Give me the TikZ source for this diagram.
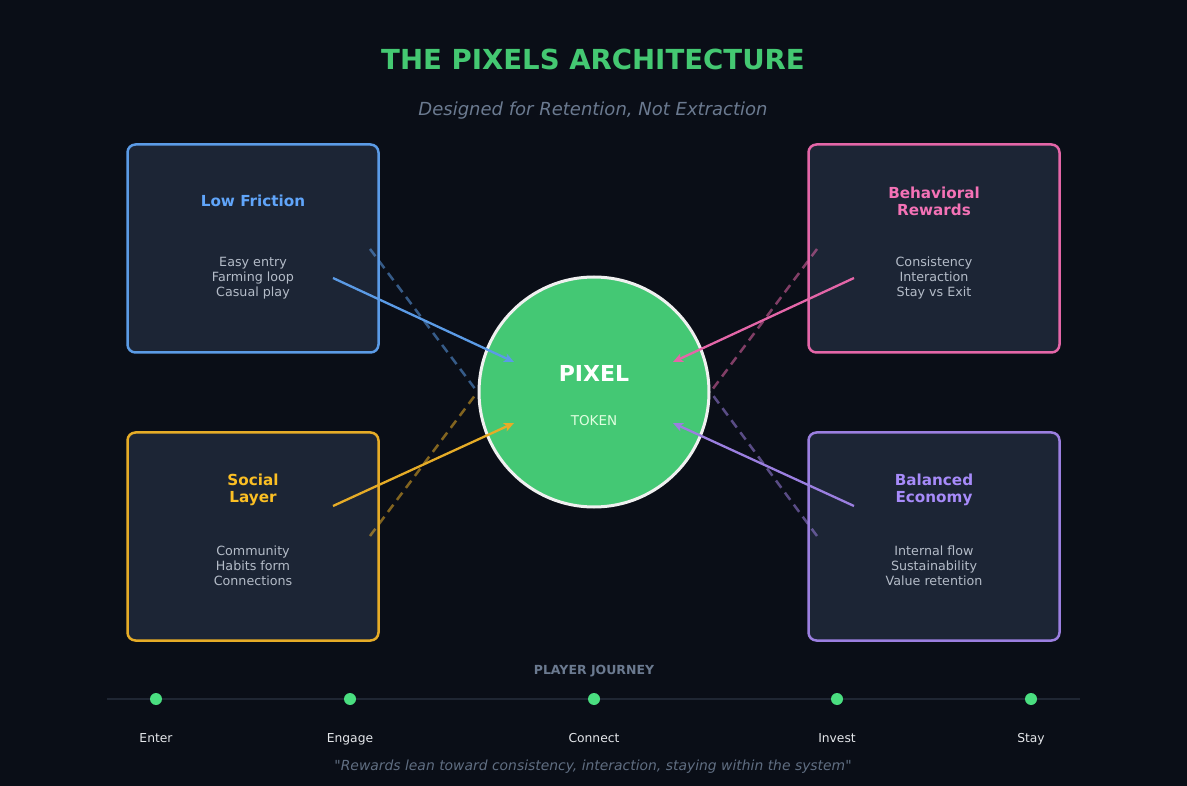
\documentclass[tikz,border=0pt]{standalone}
\usepackage{fontspec}
\setmainfont{DejaVu Sans}[Ligatures=TeXOff]
\usetikzlibrary{arrows.meta}
\definecolor{bg}{HTML}{0A0E17}
\definecolor{boxfill}{HTML}{1C2535}
\definecolor{titlegreen}{HTML}{44C872}
\definecolor{subgray}{HTML}{6B7A90}
\definecolor{bodygray}{HTML}{B4BCC8}
\definecolor{cblue}{HTML}{5B9BE6}
\definecolor{tblue}{HTML}{60A5FA}
\definecolor{cpink}{HTML}{E466A8}
\definecolor{tpink}{HTML}{F472B6}
\definecolor{cyellow}{HTML}{E6AC27}
\definecolor{tyellow}{HTML}{FBBF24}
\definecolor{cpurple}{HTML}{9B7FE0}
\definecolor{tpurple}{HTML}{A78BFA}
\definecolor{pixgreen}{HTML}{44C874}
\definecolor{dotgreen}{HTML}{4ADE80}
\definecolor{tline}{HTML}{1F2633}
\definecolor{lbl}{HTML}{E5E7EB}
\tikzset{
  card/.style={draw=#1, fill=boxfill, line width=2.5pt, rounded corners=8pt, minimum width=251pt, minimum height=208pt, inner sep=0pt},
  cardtitle/.style={text=#1, font=\fontsize{15.2}{17}\selectfont\bfseries, align=center, inner sep=0pt},
  cardbody/.style={text=bodygray, font=\fontsize{12.7}{15}\selectfont, align=center, inner sep=0pt},
  flow/.style={draw=#1, line width=2.3pt, -{Stealth[length=10pt,width=9pt,inset=2.5pt]}},
  link/.style={draw=#1, line width=2.5pt, dashed, dash pattern=on 9pt off 6pt, draw opacity=0.55},
  dot/.style={circle, fill=dotgreen, minimum size=12pt, inner sep=0pt},
  steplabel/.style={text=lbl, font=\fontsize{12.3}{14}\selectfont, inner sep=0pt, text height=9pt, text depth=3pt},
}
\begin{document}
\begin{tikzpicture}[x=1pt,y=-1pt]
\fill[bg] (0,0) rectangle (1187,786);
\useasboundingbox (0,0) rectangle (1187,786);

\node[text=titlegreen, font=\fontsize{27.6}{32}\selectfont\bfseries] (title) at (593,59) {THE PIXELS ARCHITECTURE};
\node[text=subgray, font=\fontsize{18}{21}\selectfont\itshape] (subtitle) at (593,111) {Designed for Retention, Not Extraction};

% cards
\node[card=cblue] (lf) at (253,248.5) {};
\node[card=cpink] (br) at (934,248.5) {};
\node[card=cyellow] (sl) at (253,536.5) {};
\node[card=cpurple] (be) at (934,536.5) {};

\node[cardtitle=tblue] (lft) at (253,201) {Low Friction};
\node[cardbody] (lfb) at (253,278) {Easy entry\\Farming loop\\Casual play};
\node[cardtitle=tpink] (brt) at (934,201.5) {Behavioral\\Rewards};
\node[cardbody] (brb) at (934,278) {Consistency\\Interaction\\Stay vs Exit};
\node[cardtitle=tyellow] (slt) at (253,489.5) {Social\\Layer};
\node[cardbody] (slb) at (253,566) {Community\\Habits form\\Connections};
\node[cardtitle=tpurple] (bet) at (934,489.5) {Balanced\\Economy};
\node[cardbody] (beb) at (934,566) {Internal flow\\Sustainability\\Value retention};

% central token
\node[circle, fill=pixgreen, draw=white!94!black, line width=3pt, minimum size=230pt, inner sep=0pt] (pix) at (594,392) {};
\node[text=white, font=\fontsize{22}{25}\selectfont\bfseries] (pixt) at (594,373) {PIXEL};
\node[text=white!88!green, font=\fontsize{13.5}{15}\selectfont] (tok) at (594,421) {TOKEN};

% connector coordinates
\coordinate (lfs) at (333,278);
\coordinate (lfe) at (514,362);
\coordinate (brs) at (854,278);
\coordinate (bre) at (673,362);
\coordinate (sls) at (333,506);
\coordinate (sle) at (514,423);
\coordinate (bes) at (854,506);
\coordinate (bee) at (673,423);
\coordinate (lfd) at (370,249);
\coordinate (brd) at (817,249);
\coordinate (sld) at (370,536);
\coordinate (bed) at (817,536);

% dashed links
\draw[link=cblue] (lfd) -- (pix.west);
\draw[link=cyellow] (sld) -- (pix.west);
\draw[link=cpink] (brd) -- (pix.east);
\draw[link=cpurple] (bed) -- (pix.east);

% flows
\draw[flow=cblue] (lfs) -- (lfe);
\draw[flow=cpink] (brs) -- (bre);
\draw[flow=cyellow] (sls) -- (sle);
\draw[flow=cpurple] (bes) -- (bee);

% journey
\node[text=subgray, font=\fontsize{12.5}{14}\selectfont\bfseries] (pj) at (594,671) {PLAYER JOURNEY};
\coordinate (tl0) at (107,699);
\coordinate (tl1) at (1080,699);
\draw[tline, line width=1.2pt] (tl0) -- (tl1);
\node[dot] (d1) at (156,699) {};
\node[dot] (d2) at (350,699) {};
\node[dot] (d3) at (594,699) {};
\node[dot] (d4) at (837,699) {};
\node[dot] (d5) at (1031,699) {};
\node[steplabel] (l1) at (156,739) {Enter};
\node[steplabel] (l2) at (350,739) {Engage};
\node[steplabel] (l3) at (594,739) {Connect};
\node[steplabel] (l4) at (837,739) {Invest};
\node[steplabel] (l5) at (1031,739) {Stay};

\node[text=subgray!90!black, font=\fontsize{13.9}{16}\selectfont\itshape] (quote) at (593,767) {"Rewards lean toward consistency, interaction, staying within the system"};
\end{tikzpicture}
\end{document}
